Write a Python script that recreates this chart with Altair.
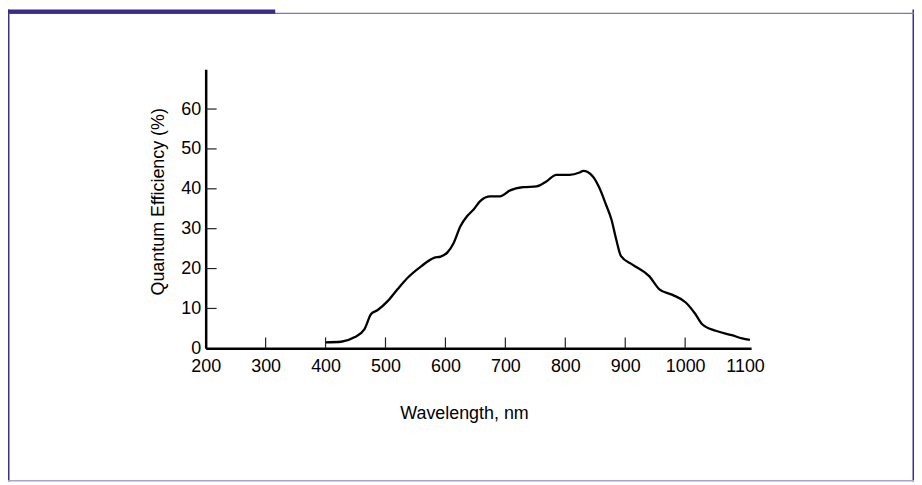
import altair as alt
import pandas as pd

# Data
wavelength = [400, 426, 448, 465, 476, 487, 504, 520, 537, 559,
              581, 592, 603, 614, 625, 636, 647, 658, 675, 691,
              708, 730, 752, 769, 785, 807, 824, 830, 846, 857,
              868, 877, 885, 893, 912, 940, 957, 979, 1001, 1017,
              1028, 1051, 1078, 1095, 1108]
qe = [1.5, 1.65, 2.75, 4.8, 8.6, 9.6, 11.9, 14.8, 17.7, 20.5,
      22.7, 23.0, 24.0, 26.5, 30.6, 33.1, 34.8, 36.9, 38.1, 38.1,
      39.6, 40.4, 40.6, 41.9, 43.5, 43.5, 44.1, 44.5, 43.1, 40.2,
      36.0, 32.3, 27.3, 23.1, 21.0, 18.1, 14.8, 13.4, 11.5, 8.6,
      6.1, 4.4, 3.3, 2.5, 2.1]

x_labels = [200, 300, 400, 500, 600, 700, 800, 900, 1000, 1100]
y_labels = [0, 10, 20, 30, 40, 50, 60]
x_ticks = [300, 400, 500, 600, 700, 800, 900, 1000]
y_ticks = [10, 20, 30, 40, 50, 60]

FONT = "Liberation Sans"
W, H = 549, 281
PL, PT, PR, PB = 199, 60, 164, 134

df = pd.DataFrame({"wavelength": wavelength, "qe": qe})
xt = pd.DataFrame({"v": x_ticks})
yt = pd.DataFrame({"v": y_ticks})
one = pd.DataFrame({"a": [0]})

xscale = alt.Scale(domain=[200, 1110], nice=False, zero=False)
yscale = alt.Scale(domain=[0, 70], nice=False, zero=False)

xaxis = alt.Axis(values=x_labels, format="d", ticks=False, grid=False, domainColor="black",
                 domainWidth=2.5, labelFont=FONT, labelFontSize=18, labelColor="black",
                 labelPadding=9, labelFlush=False, labelOverlap=False,
                 title="Wavelength, nm", titleFont=FONT, titleFontSize=18,
                 titleFontWeight="normal", titleColor="black",
                 titleX=260, titleY=71, titleBaseline="alphabetic", titleAlign="center")
yaxis = alt.Axis(values=y_labels, format="d", ticks=False, grid=False, domainColor="black",
                 domainWidth=2.5, labelFont=FONT, labelFontSize=18, labelColor="black",
                 labelPadding=5, labelFlush=False, labelOverlap=False,
                 title="Quantum Efficiency (%)", titleFont=FONT, titleFontSize=18,
                 titleFontWeight="normal", titleColor="black", titleAngle=270,
                 titleX=-42, titleY=133, titleBaseline="alphabetic", titleAlign="center")

curve = alt.Chart(df).mark_line(color="black", strokeWidth=2.3, interpolate="monotone").encode(
    x=alt.X("wavelength:Q", scale=xscale, axis=xaxis),
    y=alt.Y("qe:Q", scale=yscale, axis=yaxis),
)

xtick_marks = alt.Chart(xt).mark_tick(orient="vertical", size=11, thickness=1.2,
                                      color="#222222", yOffset=-5.5, opacity=1).encode(
    x=alt.X("v:Q", scale=xscale),
    y=alt.datum(0),
)
ytick_marks = alt.Chart(yt).mark_tick(orient="horizontal", size=11, thickness=1.2,
                                      color="#222222", xOffset=5.5, opacity=1).encode(
    y=alt.Y("v:Q", scale=yscale),
    x=alt.datum(200),
)

# decorative frame
left_b = alt.Chart(one).mark_rule(color="#3e2d8c", strokeWidth=1.5).encode(
    x=alt.value(-PL + 0.75), y=alt.value(-PT), y2=alt.value(H + PB))
right_b = alt.Chart(one).mark_rule(color="#3e2d8c", strokeWidth=1.5).encode(
    x=alt.value(W + PR - 0.75), y=alt.value(-PT), y2=alt.value(H + PB))
bottom_b = alt.Chart(one).mark_rule(color="#a9a2d4", strokeWidth=1.5).encode(
    y=alt.value(H + PB - 0.75), x=alt.value(-PL), x2=alt.value(W + PR))
top_b = alt.Chart(one).mark_rule(color="#7f74b8", strokeWidth=1.2).encode(
    y=alt.value(-PT + 3.8), x=alt.value(-PL), x2=alt.value(W + PR))
band = alt.Chart(one).mark_rect(color="#3b2a8a").encode(
    x=alt.value(-PL), x2=alt.value(-PL + 269), y=alt.value(-PT), y2=alt.value(-PT + 4.3))

chart = alt.layer(curve, xtick_marks, ytick_marks, left_b, right_b, bottom_b, top_b, band).properties(
    width=W, height=H,
    autosize=alt.AutoSizeParams(type="none"),
    padding={"left": PL, "top": PT, "right": PR, "bottom": PB},
    background="white",
).configure_view(stroke=None)

chart.save("out.html", embed_options={"renderer": "svg", "actions": False})
